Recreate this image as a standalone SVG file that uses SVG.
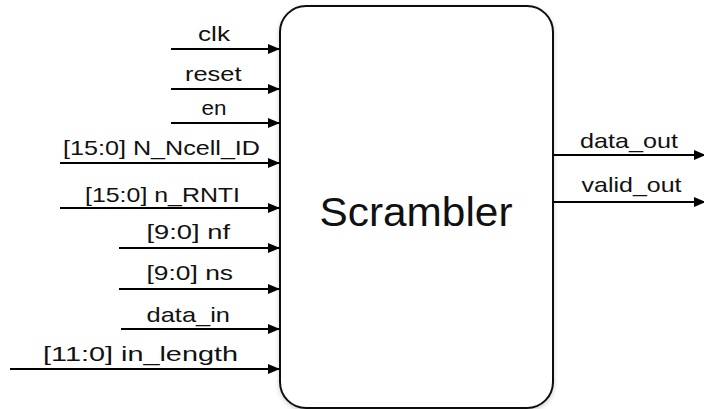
<svg xmlns="http://www.w3.org/2000/svg" width="704" height="409" viewBox="0 0 704 409">
<defs>
<marker id="ah" viewBox="0 0 12 10" refX="12" refY="5" markerWidth="12" markerHeight="10" markerUnits="userSpaceOnUse" orient="auto">
<path d="M0,0 L12,5 L0,10 Z" fill="#000"/>
</marker>
<filter id="sh" x="-10%" y="-10%" width="120%" height="120%">
<feDropShadow dx="0" dy="2" stdDeviation="2.5" flood-color="#000" flood-opacity="0.18"/>
</filter>
</defs>
<style>
.w{stroke:#000;stroke-width:2;fill:none;marker-end:url(#ah)}
.t{font-family:"Liberation Sans",Arial,sans-serif;font-size:21px;fill:#111}
.box{fill:#fff;stroke:#111;stroke-width:2}
</style>
<rect width="704" height="409" fill="#fff"/>
<g id="scrambler">
<rect class="box" x="280" y="6" width="273" height="402" rx="26" ry="26" filter="url(#sh)"/>
<text x="416" y="226" text-anchor="middle" font-family="'Liberation Sans',Arial,sans-serif" font-size="41" fill="#111" textLength="193" lengthAdjust="spacingAndGlyphs">Scrambler</text>
</g>
<g id="connectors">
<line class="w" x1="171" y1="49" x2="280" y2="49"/>
<line class="w" x1="171" y1="89" x2="280" y2="89"/>
<line class="w" x1="171" y1="123" x2="280" y2="123"/>
<line class="w" x1="60" y1="163" x2="280" y2="163"/>
<line class="w" x1="60" y1="208" x2="280" y2="208"/>
<line class="w" x1="119" y1="248" x2="280" y2="248"/>
<line class="w" x1="119" y1="289" x2="280" y2="289"/>
<line class="w" x1="121" y1="329" x2="280" y2="329"/>
<line class="w" x1="10" y1="369" x2="280" y2="369"/>
<line class="w" x1="553" y1="155" x2="706" y2="155"/>
<line class="w" x1="553" y1="202" x2="706" y2="202"/>
</g>
<g id="labels">
<text class="t" x="198" y="40.5" textLength="32" lengthAdjust="spacingAndGlyphs">clk</text>
<text class="t" x="185" y="81" textLength="56.5" lengthAdjust="spacingAndGlyphs">reset</text>
<text class="t" x="201.5" y="115" textLength="25" lengthAdjust="spacingAndGlyphs">en</text>
<text class="t" x="63" y="155" textLength="197" lengthAdjust="spacingAndGlyphs">[15:0] N_Ncell_ID</text>
<text class="t" x="85" y="201.5" textLength="155" lengthAdjust="spacingAndGlyphs">[15:0] n_RNTI</text>
<text class="t" x="146.5" y="238.5" textLength="83.5" lengthAdjust="spacingAndGlyphs">[9:0] nf</text>
<text class="t" x="146.5" y="280" textLength="86.5" lengthAdjust="spacingAndGlyphs">[9:0] ns</text>
<text class="t" x="146.5" y="321.5" textLength="83.5" lengthAdjust="spacingAndGlyphs">data_in</text>
<text class="t" x="43" y="360.5" font-size="25" textLength="195" lengthAdjust="spacingAndGlyphs">[11:0] in_length</text>
<text class="t" x="580" y="147.5" textLength="98" lengthAdjust="spacingAndGlyphs">data_out</text>
<text class="t" x="581.5" y="191.5" textLength="100" lengthAdjust="spacingAndGlyphs">valid_out</text>
</g>
</svg>
